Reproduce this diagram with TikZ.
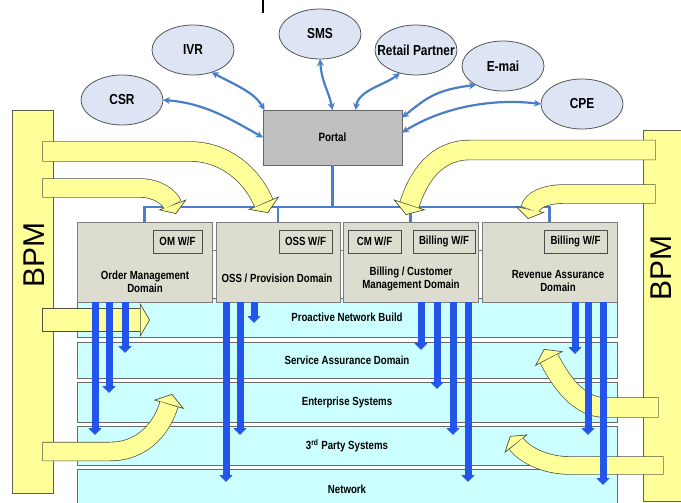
\documentclass[tikz,border=0pt]{standalone}
\usepackage{fontspec}
\setmainfont{Liberation Sans}
\newfontfamily\nb{Liberation Sans}[FakeStretch=0.82]
\usetikzlibrary{arrows.meta,shapes.geometric}
\definecolor{ylw}{RGB}{255,255,153}
\definecolor{ylwb}{RGB}{80,80,60}
\definecolor{cyanf}{RGB}{204,255,255}
\definecolor{layb}{RGB}{105,105,105}
\definecolor{domf}{RGB}{221,221,207}
\definecolor{domb}{RGB}{125,125,125}
\definecolor{ellf}{RGB}{221,228,244}
\definecolor{ellb}{RGB}{85,85,85}
\definecolor{portf}{RGB}{191,191,191}
\definecolor{connb}{RGB}{74,126,200}
\definecolor{bluea}{RGB}{35,85,235}
\newcommand\yarw[5]{% path, head width, head length, band width, border width
  \draw[line width=#5, draw=ylwb, shorten <=-0.7pt,
        -{Triangle[width=#2,length=#3,fill=ylw,line width=0.7pt]}] #1;
  \draw[line width=#4, draw=ylw, shorten >=#3] #1;}
\tikzset{
  bpmbar/.style={draw=ylwb!90, fill=ylw, line width=0.8pt},
  layer/.style={draw=layb, fill=cyanf, line width=0.9pt, minimum width=540pt,
    inner sep=0pt, outer sep=0pt, font=\nb\bfseries\fontsize{11.8}{13}\selectfont},
  dom/.style={draw=domb, fill=domf, line width=0.9pt, minimum height=80pt,
    inner sep=0pt, outer sep=0pt},
  dlab/.style={align=center, inner sep=0pt, font=\nb\bfseries\fontsize{11.8}{13}\selectfont},
  wf/.style={draw=black!70, fill=domf, line width=0.9pt, minimum height=23pt,
    inner sep=0pt, outer sep=0pt, font=\nb\bfseries\fontsize{11.8}{13}\selectfont},
  ell/.style={ellipse, draw=ellb, fill=ellf, line width=0.8pt, minimum width=82pt,
    minimum height=50pt, inner sep=0pt, outer sep=0pt},
  etxt/.style={font=\nb\bfseries\fontsize{14.5}{16}\selectfont, inner sep=0pt},
  conn/.style={draw=connb, line width=2.2pt},
  econn/.style={draw=connb, line width=2.2pt,
    {Stealth[length=7pt,width=7pt]}-{Stealth[length=7pt,width=7pt]}},
  varrow/.style={draw=bluea, line width=7pt, -{Triangle[width=13pt,length=7pt]}},
  bpmtxt/.style={rotate=90, font=\fontsize{30}{32}\selectfont, inner sep=0pt},
}
\begin{document}
\begin{tikzpicture}[x=1pt,y=-1pt]
\useasboundingbox (0,0) rectangle (681,503);
% fragment at top
\draw[line width=1.6pt] (263,0) -- (263,13);
% BPM bars
\draw[bpmbar] (12,110) rectangle (53,493);
\draw[bpmbar] (643,130) rectangle (700,501);
\node[bpmtxt] (bpml) at (34,255) {BPM};
\node[bpmtxt] (bpmr) at (661,268) {BPM};
% layers
\node[layer, minimum height=39pt] (l1) at (347,317.5) {Proactive Network Build};
\node[layer, minimum height=36pt] (l2) at (347,360) {Service Assurance Domain};
\node[layer, minimum height=40pt] (l3) at (347,402) {Enterprise Systems};
\node[layer, minimum height=39pt] (l4) at (347,445.5) {3\textsuperscript{rd} Party Systems};
\node[layer, minimum height=40pt] (l5) at (347,489) {Network};
% domain boxes
\node[dom, minimum width=135pt] (d1) at (144.5,262) {};
\node[dom, minimum width=124pt] (d2) at (278,262) {};
\node[dom, minimum width=135pt] (d3) at (410.5,262) {};
\node[dom, minimum width=135pt] (d4) at (549.5,262) {};
\draw[domb, line width=0.9pt] (d1.east |- 0,250) -- (d2.west |- 0,250);
\draw[domb, line width=0.9pt] (d2.east |- 0,250) -- (d3.west |- 0,250);
\draw[domb, line width=0.9pt] (d3.east |- 0,250) -- (d4.west |- 0,250);
\node[wf, minimum width=49pt] (omwf) at (177.5,241.5) {OM W/F};
\node[wf, minimum width=53pt] (osswf) at (305.5,241.5) {OSS W/F};
\node[wf, minimum width=53pt] (cmwf) at (374.5,241.5) {CM W/F};
\node[wf, minimum width=62pt] (bwf3) at (444,241.5) {Billing W/F};
\node[wf, minimum width=63pt] (bwf4) at (575.5,241.5) {Billing W/F};
\node[dlab] (dl1) at (145,281.5) {Order Management\\Domain};
\node[dlab] (dl2) at (277,278) {OSS / Provision Domain};
\node[dlab] (dl3) at (411,278.5) {Billing / Customer\\Management Domain};
\node[dlab] (dl4) at (558,280.5) {Revenue Assurance\\Domain};
% portal
\node[draw=black!60, fill=portf, line width=0.9pt, minimum width=139pt, minimum height=55pt,
  inner sep=0pt, outer sep=0pt, font=\nb\bfseries\fontsize{12}{14}\selectfont] (portal) at (332.5,137.5) {Portal};
% bus
\coordinate (bus) at (332.5,207);
\draw[conn] (portal.south) -- (bus);
\draw[conn] (d1.north) |- (bus) -| (d4.north);
\draw[conn] (d2.north) -- (d2.north |- bus);
\draw[conn] (d3.north) -- (d3.north |- bus);
% ellipses
\node[ell, label={[etxt]center:CSR}] (csr) at (122,100) {};
\node[ell, label={[etxt]center:IVR}] (ivr) at (193,50) {};
\node[ell, label={[etxt]center:SMS}] (sms) at (320,34) {};
\node[ell, label={[etxt]center:Retail Partner}] (rp) at (416,50) {};
\node[ell, label={[etxt]center:E-mai}] (email) at (503,66) {};
\node[ell, label={[etxt]center:CPE}] (cpe) at (582,104) {};
\draw[econn] (csr.east) .. controls +(40,3) and +(-35,-20) .. (portal.west);
\draw[econn] (ivr.-50) .. controls +(22,12) and +(-10,-18) .. (portal.158);
\draw[econn] (sms.south) .. controls +(2,25) and +(-4,-20) .. (portal.north);
\draw[econn] (rp.-125) .. controls +(-15,12) and +(3,-20) .. (portal.50);
\draw[econn] (email.-145) .. controls +(-40,5) and +(25,-20) .. (portal.16);
\draw[econn] (cpe.west) .. controls +(-50,-6) and +(40,-25) .. (portal.4);
% yellow arrows
\yarw{(43,151.5) -- (190,151.5) .. controls (225,151.5) and (252,175) .. (268,213)}{34pt}{11pt}{19pt}{20.4pt}
\yarw{(43,188) -- (140,188) .. controls (158,188) and (170,198) .. (176,214)}{30pt}{10pt}{18pt}{19.4pt}
\yarw{(655,150) -- (470,150) .. controls (435,150) and (418,178) .. (406,215)}{34pt}{11pt}{19pt}{20.4pt}
\yarw{(655,194) -- (565,194) .. controls (545,194) and (532,200) .. (528,219)}{30pt}{10pt}{18pt}{19.4pt}
\yarw{(43,320) -- (150,320)}{34pt}{10pt}{22pt}{23.4pt}
\yarw{(43,451.5) -- (110,451.5) .. controls (145,451.5) and (163,425) .. (172,394)}{32pt}{11pt}{18pt}{19.4pt}
\yarw{(658,407.5) -- (605,407.5) .. controls (578,407.5) and (560,380) .. (544,349)}{32pt}{11pt}{19pt}{20.4pt}
\yarw{(663,465.5) -- (570,465.5) .. controls (545,465.5) and (525,455) .. (510,436)}{30pt}{10pt}{17pt}{18.4pt}
% blue vertical arrows
\foreach \b/\dx/\len in {d1/-49.5/133, d1/-35.5/91, d1/-19.5/51,
  d2/-52/180, d2/-38/133, d2/-24/21,
  d3/10.5/48, d3/26.5/87, d3/42.5/133, d3/57.5/180,
  d4/25.5/52, d4/38.5/133, d4/53.5/183}
  \draw[varrow] ([xshift=\dx pt]\b.south) -- ++(0,\len);
\end{tikzpicture}
\end{document}
